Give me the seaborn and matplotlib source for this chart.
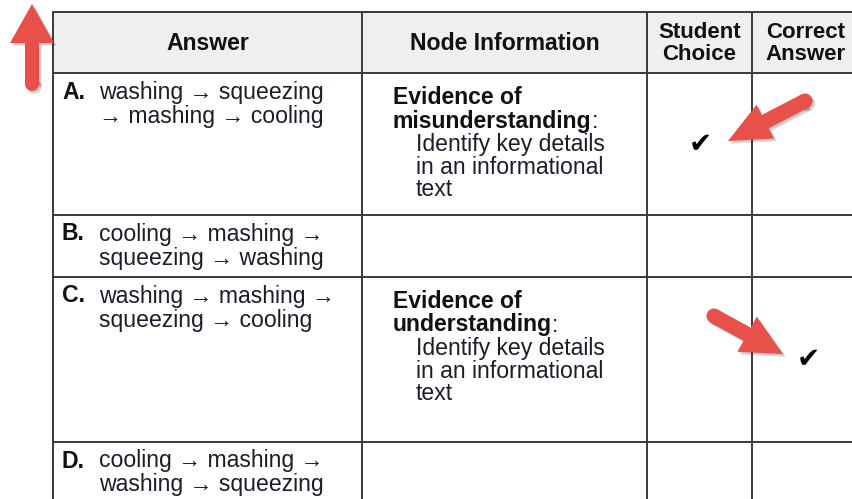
import matplotlib
matplotlib.use("Agg")
import matplotlib.pyplot as plt
import seaborn as sns
import numpy as np
from matplotlib.patches import Rectangle, Polygon, Circle

# ---------------- data ----------------
headers = ["Answer", "Node Information", "Student\nChoice", "Correct\nAnswer"]
letters = ["A.", "B.", "C.", "D."]
answer_line1 = ["washing \u2192 squeezing", "cooling \u2192 mashing \u2192",
                "washing \u2192 mashing \u2192", "cooling \u2192 mashing \u2192"]
answer_line2 = ["\u2192 mashing \u2192 cooling", "squeezing \u2192 washing",
                "squeezing \u2192 cooling", "washing \u2192 squeezing"]
evidence_kind = ["misunderstanding", None, "understanding", None]
skill_lines = ["Identify key details", "in an informational", "text"]
student_choice = [True, False, False, False]
correct_answer = [False, False, True, False]

# ---------------- figure ----------------
sns.set_theme(style="white")
plt.rcParams['font.family'] = ['Liberation Sans', 'DejaVu Sans']
W, H = 853, 499
fig = plt.figure(figsize=(W / 100, H / 100), dpi=100)
ax = fig.add_axes([0, 0, 1, 1])
ax.set_xlim(0, W)
ax.set_ylim(H, 0)
ax.axis("off")
sns.despine(ax=ax, left=True, bottom=True)

col_x = [53, 362, 647, 752, 880]
row_y = [12, 73, 215, 277, 442, 520]
line_c = "#3a3a3a"
txt_c = "#1c1c2a"
fs = 16.6

# header background
ax.add_patch(Rectangle((col_x[0], row_y[0]), col_x[-1] - col_x[0], row_y[1] - row_y[0],
                       facecolor="#efefef", edgecolor="none", zorder=1))
# grid lines
for x in col_x[:-1]:
    ax.plot([x, x], [row_y[0], row_y[-1]], color=line_c, lw=1.4, zorder=2)
for y in row_y[:-1]:
    ax.plot([col_x[0], col_x[-1]], [y, y], color=line_c, lw=1.4, zorder=2)

# header text
hy = (row_y[0] + row_y[1]) / 2 + 1
for i, h in enumerate(headers):
    cx = (col_x[i] + col_x[i + 1]) / 2 if i < 3 else 806
    ax.text(cx, hy, h, ha="center", va="center", fontsize=fs if i < 2 else 16,
            fontweight="bold", color="#111111", linespacing=1.12, zorder=3)

fig.canvas.draw()
renderer = fig.canvas.get_renderer()

for r in range(4):
    top = row_y[r + 1]
    y1 = top + 19
    ax.text(62, y1, letters[r], ha="left", va="center", fontsize=fs,
            fontweight="bold", color="#111111", zorder=3)
    ax.text(99, y1, answer_line1[r], ha="left", va="center", fontsize=fs,
            color=txt_c, zorder=3)
    ax.text(99, y1 + 24, answer_line2[r], ha="left", va="center", fontsize=fs,
            color=txt_c, zorder=3)
    if evidence_kind[r]:
        ey = top + 24
        ax.text(393, ey, "Evidence of", ha="left", va="center", fontsize=fs,
                fontweight="bold", color="#111111", zorder=3)
        t = ax.text(393, ey + 24, evidence_kind[r], ha="left", va="center",
                    fontsize=fs, fontweight="bold", color="#111111", zorder=3)
        bb = t.get_window_extent(renderer=renderer)
        x_end = ax.transData.inverted().transform((bb.x1, bb.y0))[0]
        ax.text(x_end, ey + 24, ":", ha="left", va="center", fontsize=fs,
                color=txt_c, zorder=3)
        for k, s in enumerate(skill_lines):
            ax.text(416, ey + 47 + 23 * k, s, ha="left", va="center",
                    fontsize=fs, color=txt_c, zorder=3)

for r in range(4):
    if student_choice[r]:
        ax.text(700, row_y[r + 1] + 71, "\u2714", ha="center", va="center",
                fontsize=20, family="DejaVu Sans", color="#000000", zorder=3)
    if correct_answer[r]:
        ax.text(808, row_y[r + 1] + 82, "\u2714", ha="center", va="center",
                fontsize=20, family="DejaVu Sans", color="#000000", zorder=3)

# ---------------- red callout arrows ----------------
red = "#e8504a"

def callout(tail, tip, shaft_w, head_w, head_l):
    tail = np.array(tail, float)
    tip = np.array(tip, float)
    d = tip - tail
    L = np.linalg.norm(d)
    u = d / L
    n = np.array([-u[1], u[0]])
    base = tip - u * head_l
    pts = [tail + n * shaft_w / 2, base + n * shaft_w / 2, base + n * head_w / 2, tip,
           base - n * head_w / 2, base - n * shaft_w / 2, tail - n * shaft_w / 2]
    for off, a in [(3.0, 0.10), (1.8, 0.12)]:
        sp = [p + np.array([off, off]) for p in pts]
        ax.add_patch(Polygon(sp, closed=True, facecolor="#000000", alpha=a,
                             edgecolor="none", zorder=4))
        ax.add_patch(Circle(tail + np.array([off, off]), shaft_w / 2, facecolor="#000000",
                            alpha=a, edgecolor="none", zorder=4))
    ax.add_patch(Polygon(pts, closed=True, facecolor=red, edgecolor="none", zorder=5,
                         joinstyle="miter"))
    ax.add_patch(Circle(tail, shaft_w / 2, facecolor=red, edgecolor="none", zorder=5))

callout((32, 84), (32, 4), 14, 44, 39)
callout((805, 101), (728, 141), 15, 38, 42)
callout((714, 316), (783, 354), 15, 40, 41)

fig.savefig("out.png", dpi=100)
